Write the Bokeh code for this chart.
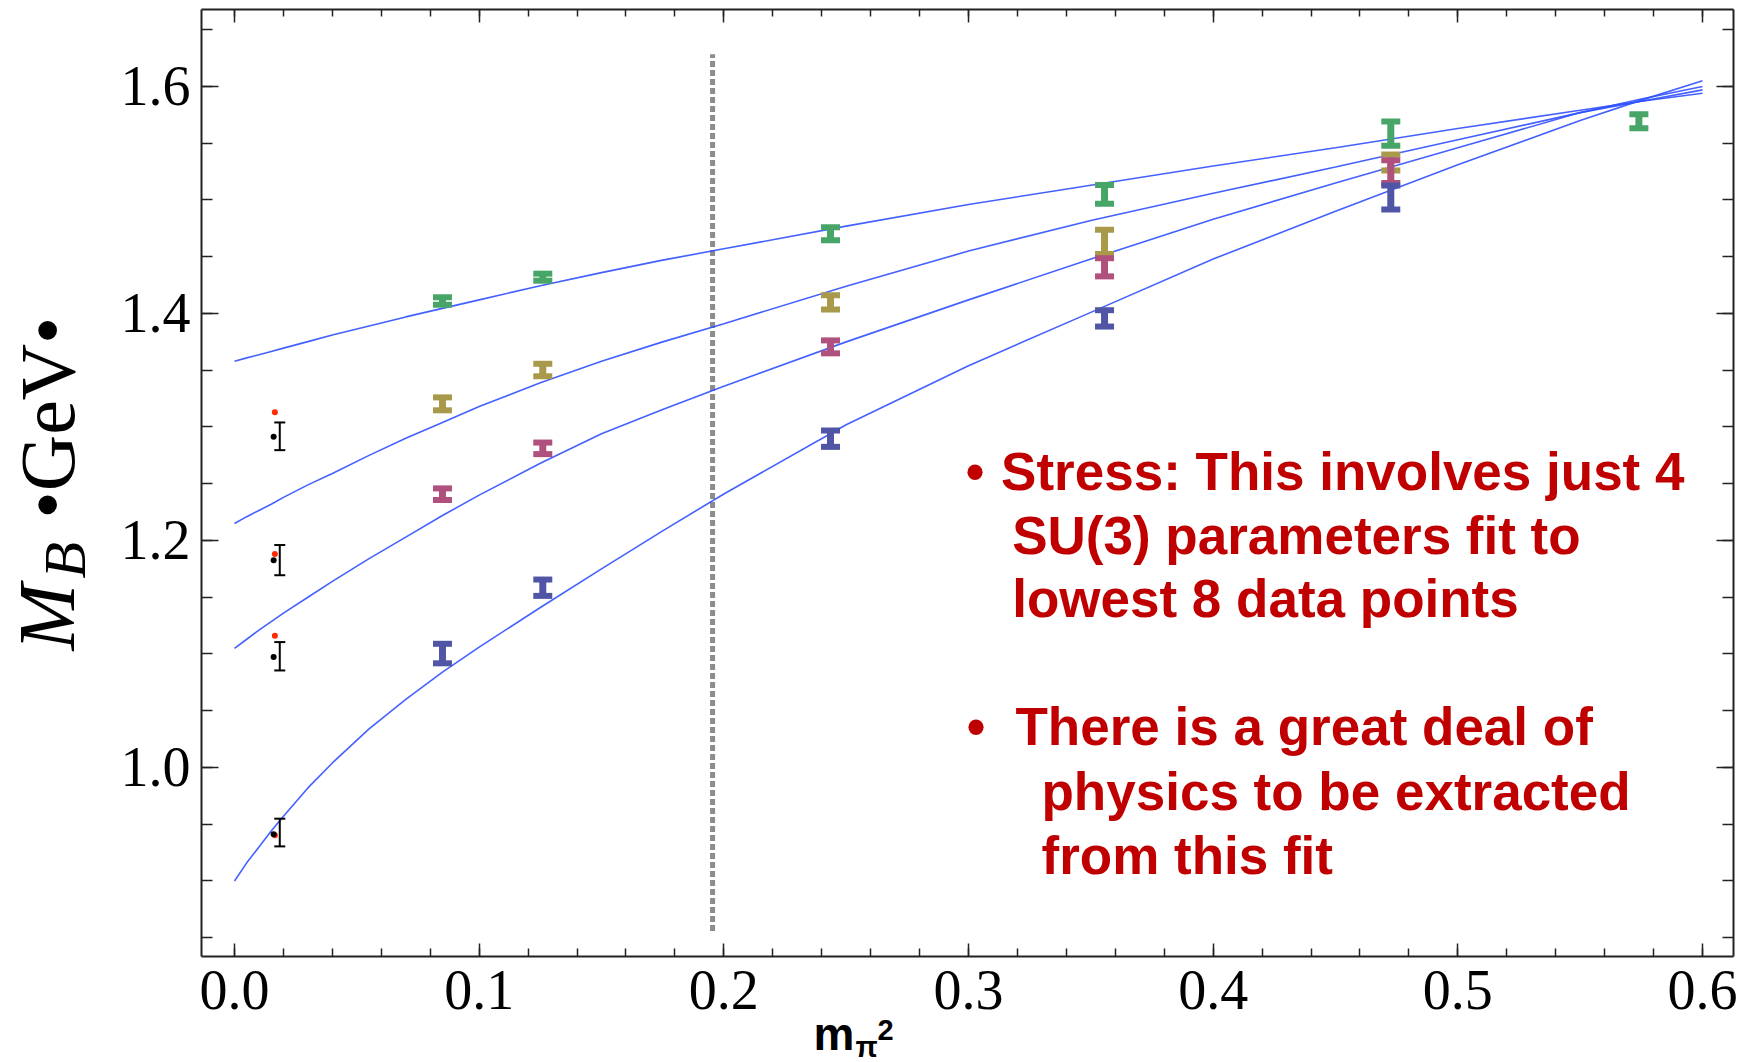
import numpy as np
from bokeh.plotting import figure
from bokeh.models import Range1d, LinearAxis, SingleIntervalTicker, Label, PrintfTickFormatter
from bokeh.embed import file_html
from bokeh.resources import INLINE

# ---------------- data ----------------
lat_x = [0.085, 0.126, 0.2436, 0.3556, 0.4726]
xi_x = [0.085, 0.126, 0.2436, 0.3556, 0.4726, 0.574]
xi_m = [1.411, 1.432, 1.4703, 1.5049, 1.5585, 1.5694]
xi_e = [0.0033, 0.0031, 0.0057, 0.0083, 0.0106, 0.0062]
sigma_m = [1.3204, 1.3502, 1.4098, 1.4631, 1.533]
sigma_e = [0.0057, 0.0055, 0.0063, 0.0107, 0.007]
lambda_m = [1.2408, 1.2812, 1.3706, 1.4407, 1.525]
lambda_e = [0.0051, 0.0051, 0.0057, 0.0080, 0.0100]
nucleon_m = [1.1004, 1.1584, 1.2897, 1.3957, 1.5022]
nucleon_e = [0.0086, 0.0072, 0.0072, 0.0072, 0.0106]

phys_bar_x = 0.0185
phys_dot_x = 0.0160
phys_red_x = 0.0165
phys_fit = [1.2918, 1.1827, 1.0980, 0.9427]
phys_fit_e = [0.0122, 0.0133, 0.0125, 0.0122]
phys_dot = [1.2914, 1.1827, 1.0973, 0.9412]
phys_exp = [1.313, 1.1882, 1.116, 0.9404]

fit_x = [0.0, 0.005, 0.01, 0.015, 0.02, 0.03, 0.04, 0.055, 0.07, 0.085, 0.10, 0.125, 0.15, 0.175,
         0.20, 0.25, 0.30, 0.35, 0.40, 0.45, 0.50, 0.55, 0.575, 0.60]
fit_xi = [1.358, 1.3609, 1.3637, 1.3666, 1.3695, 1.3752, 1.381, 1.389, 1.397, 1.4045, 1.412, 1.4245,
          1.436, 1.447, 1.457, 1.477, 1.496, 1.513, 1.530, 1.546, 1.563, 1.579, 1.587, 1.594]
fit_sigma = [1.215, 1.221, 1.2265, 1.232, 1.238, 1.249, 1.259, 1.275, 1.290, 1.304, 1.318, 1.339,
             1.358, 1.375, 1.391, 1.424, 1.455, 1.482, 1.506, 1.529, 1.553, 1.577, 1.587, 1.597]
fit_lambda = [1.105, 1.113, 1.121, 1.1285, 1.136, 1.150, 1.164, 1.184, 1.203, 1.222, 1.240, 1.268,
              1.294, 1.3155, 1.336, 1.375, 1.412, 1.448, 1.483, 1.515, 1.546, 1.577, 1.589, 1.600]
fit_nucleon = [0.900, 0.916, 0.930, 0.944, 0.957, 0.982, 1.004, 1.034, 1.060, 1.084, 1.106, 1.141,
               1.175, 1.2085, 1.241, 1.302, 1.354, 1.401, 1.448, 1.490, 1.531, 1.570, 1.588, 1.605]

cut_x = 0.1954
cut_y = [0.856, 1.6285]

notes = [
    ("•", "Stress: This involves just 4"),
    ("", "SU(3) parameters fit to"),
    ("", "lowest 8 data points"),
    ("•", "There is a great deal of"),
    ("", "physics to be extracted"),
    ("", "from this fit"),
]

# ---------------- layout constants ----------------
W, H = 1753, 1062
X0, X1 = -0.01349, 0.61267          # plot box in data units
Y0, Y1 = 0.83348, 1.66784
L, R, T, B = 201, 20, 9, 106        # plot box borders in pixels
PXU = (W - L - R) / (X1 - X0)
PYU = (H - T - B) / (Y1 - Y0)
XA, XB = X0 - L / PXU, X0 + (W - L) / PXU
YB, YA = Y1 + T / PYU, Y1 - (H - T) / PYU

serif = "Liberation Serif"
sans = "Liberation Sans"

# the frame fills the whole canvas; the axes are pinned to the plot box
p = figure(width=W, height=H, x_range=Range1d(XA, XB), y_range=Range1d(YA, YB),
           output_backend="svg", toolbar_location=None, title=None, min_border=0)
p.grid.visible = False
p.background_fill_color = "white"
p.border_fill_color = "white"
p.outline_line_color = None


def style_axis(ax, tick_in, minor_in, labels, standoff, fixed, bounds):
    ax.fixed_location = fixed
    ax.bounds = bounds
    ax.major_tick_in = tick_in
    ax.major_tick_out = 0
    ax.minor_tick_in = minor_in
    ax.minor_tick_out = 0
    ax.axis_line_width = 2
    ax.axis_line_color = "#222222"
    ax.major_tick_line_width = 1.5
    ax.minor_tick_line_width = 1.5
    ax.major_tick_line_color = "#222222"
    ax.minor_tick_line_color = "#222222"
    if labels:
        ax.formatter = PrintfTickFormatter(format="%.1f")
        ax.major_label_text_font = serif
        ax.major_label_text_font_size = "56px"
        ax.major_label_text_color = "black"
        ax.major_label_standoff = standoff
    else:
        ax.major_label_text_font_size = "1px"
        ax.major_label_text_color = None
        ax.major_label_standoff = 0


xb = p.xaxis[0]
xb.ticker = SingleIntervalTicker(interval=0.1, num_minor_ticks=5)
style_axis(xb, 13, 8, True, 14, Y0, (X0, X1))

yl = p.yaxis[0]
yl.ticker = SingleIntervalTicker(interval=0.2, num_minor_ticks=4)
style_axis(yl, 17, 11, True, 11, X0, (Y0, Y1))

top = LinearAxis(ticker=SingleIntervalTicker(interval=0.1, num_minor_ticks=5))
style_axis(top, 13, 7, False, 0, Y1, (X0, X1))
p.add_layout(top, "above")

right = LinearAxis(ticker=SingleIntervalTicker(interval=0.2, num_minor_ticks=4))
style_axis(right, 17, 11, False, 0, X1, (Y0, Y1))
p.add_layout(right, "right")

# vertical dotted cut line
p.line([cut_x, cut_x], cut_y, line_color="#8c8c8c", line_width=5, line_dash="6 3")

# fit curves
for ys in (fit_xi, fit_sigma, fit_lambda, fit_nucleon):
    p.line(fit_x, ys, line_color="#3050ff", line_width=1.6, line_alpha=0.9)


def bars(xs, ys, es, color):
    xs = np.asarray(xs)
    ys = np.asarray(ys)
    es = np.asarray(es)
    p.segment(x0=xs, y0=ys - es, x1=xs, y1=ys + es, line_color=color, line_width=7)
    p.rect(x=xs, y=ys + es, width=19, height=6, width_units="screen", height_units="screen",
           fill_color=color, line_color=None)
    p.rect(x=xs, y=ys - es, width=19, height=6, width_units="screen", height_units="screen",
           fill_color=color, line_color=None)


bars(xi_x, xi_m, xi_e, "#48a568")
bars(lat_x, sigma_m, sigma_e, "#a99a4b")
bars(lat_x, lambda_m, lambda_e, "#af507d")
bars(lat_x, nucleon_m, nucleon_e, "#5055a5")

# physical point
px = [phys_bar_x] * 4
pf = np.asarray(phys_fit)
pe = np.asarray(phys_fit_e)
p.segment(x0=px, y0=pf - pe, x1=px, y1=pf + pe, line_color="black", line_width=2)
p.rect(x=px, y=pf + pe, width=11, height=2, width_units="screen", height_units="screen",
       fill_color="black", line_color=None)
p.rect(x=px, y=pf - pe, width=11, height=2, width_units="screen", height_units="screen",
       fill_color="black", line_color=None)
p.scatter([phys_red_x] * 4, phys_exp, size=6, marker="circle", fill_color="#ff2a00", line_color=None)
p.scatter([phys_dot_x] * 4, phys_dot, size=6, marker="circle", fill_color="black", line_color=None)


def canvas_label(text, cx, cy, size, font=sans, style="bold", color="black", align="left", angle=0.0):
    p.add_layout(Label(x=cx, y=cy, x_units="canvas", y_units="canvas", text=text, angle=angle,
                       text_align=align, text_baseline="alphabetic", text_font=font,
                       text_font_style=style, text_font_size=size, text_color=color))


# annotation text (red)
red = "#c00000"
bul_px = [974.5, None, None, 975.5, None, None]
txt_px = [1000.6, 1011.7, 1011.7, 1015, 1041, 1041]
base_py = [471, 534.5, 598, 726, 791, 854.5]
for (b, t), bx, tx, by in zip(notes, bul_px, txt_px, base_py):
    if b:
        canvas_label(b, bx, by, "53px", color=red, align="center")
    canvas_label(t, tx, by, "53px", color=red)

# y axis title  M_B •GeV•  (rotated)
ang = np.pi / 2
canvas_label("M", 46, 650, "80px", font=serif, style="italic", angle=ang)
canvas_label("B", 64, 578, "60px", font=serif, style="italic", angle=ang)
canvas_label("•GeV•", 47, 518, "78px", font=serif, style="normal", angle=ang)

# x axis title  m_pi^2
canvas_label("m", 813, 1033, "46px")
canvas_label("π", 855, 1046, "29px")
canvas_label("2", 877, 1029, "29px")

open("out.html", "w").write(file_html(p, INLINE))
